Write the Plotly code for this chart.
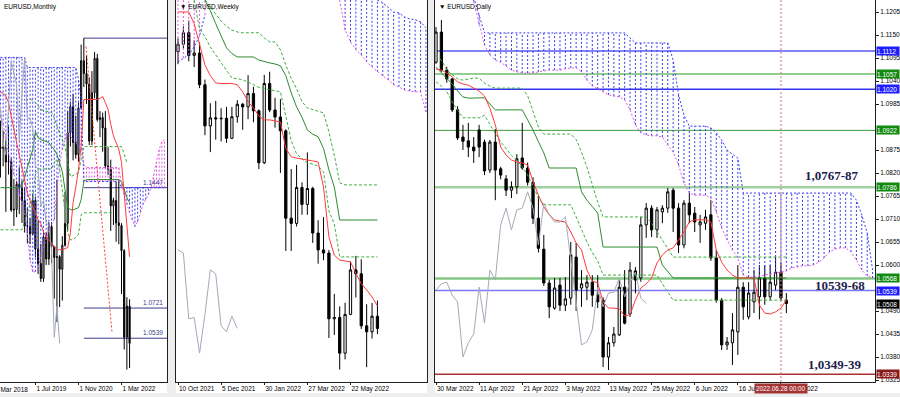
import plotly.graph_objects as go
from datetime import datetime

# ============================ DATA ============================
# ---------------- Monthly (EURUSD, MN) ----------------
m_dates = ["2018-06-01", "2018-07-01", "2018-08-01", "2018-09-01", "2018-10-01", "2018-11-01", "2018-12-01",
           "2019-01-01", "2019-02-01", "2019-03-01", "2019-04-01", "2019-05-01", "2019-06-01", "2019-07-01",
           "2019-08-01", "2019-09-01", "2019-10-01", "2019-11-01", "2019-12-01", "2020-01-01", "2020-02-01",
           "2020-03-01", "2020-04-01", "2020-05-01", "2020-06-01", "2020-07-01", "2020-08-01", "2020-09-01",
           "2020-10-01", "2020-11-01", "2020-12-01", "2021-01-01", "2021-02-01", "2021-03-01", "2021-04-01",
           "2021-05-01", "2021-06-01", "2021-07-01", "2021-08-01", "2021-09-01", "2021-10-01", "2021-11-01",
           "2021-12-01", "2022-01-01", "2022-02-01", "2022-03-01", "2022-04-01", "2022-05-01", "2022-06-01"]
m_open = [1.1692, 1.1684, 1.1690, 1.1602, 1.1604, 1.1312, 1.1316, 1.1467, 1.1445, 1.1370, 1.1217, 1.1214,
          1.1169, 1.1370, 1.1077, 1.0989, 1.0899, 1.1150, 1.1017, 1.1213, 1.1093, 1.1026, 1.1031, 1.0955,
          1.1100, 1.1232, 1.1778, 1.1936, 1.1720, 1.1646, 1.1928, 1.2213, 1.2136, 1.2072, 1.1728, 1.2020,
          1.2227, 1.1858, 1.1870, 1.1807, 1.1578, 1.1558, 1.1337, 1.1370, 1.1235, 1.1219, 1.1067, 1.0545, 1.0733]
m_high = [1.1852, 1.1791, 1.1734, 1.1815, 1.1625, 1.1500, 1.1486, 1.1570, 1.1489, 1.1448, 1.1324, 1.1265,
          1.1412, 1.1393, 1.1249, 1.1109, 1.1179, 1.1176, 1.1239, 1.1239, 1.1095, 1.1495, 1.1040, 1.1154,
          1.1422, 1.1909, 1.1966, 1.2011, 1.1881, 1.1960, 1.2310, 1.2349, 1.2243, 1.2113, 1.2150, 1.2266,
          1.2254, 1.1909, 1.1900, 1.1909, 1.1692, 1.1616, 1.1386, 1.1482, 1.1495, 1.1233, 1.1076, 1.0787, 1.0774]
m_low = [1.1508, 1.1576, 1.1301, 1.1526, 1.1302, 1.1216, 1.1269, 1.1289, 1.1234, 1.1176, 1.1110, 1.1107,
         1.1160, 1.1028, 1.0926, 1.0879, 1.0879, 1.0981, 1.0981, 1.0992, 1.0778, 1.0636, 1.0727, 1.0766,
         1.1091, 1.1185, 1.1695, 1.1612, 1.1622, 1.1603, 1.1924, 1.2054, 1.1952, 1.1704, 1.1704, 1.1986,
         1.1845, 1.1752, 1.1664, 1.1563, 1.1524, 1.1186, 1.1222, 1.1121, 1.1106, 1.0806, 1.0471, 1.0350, 1.0359]
m_close = [1.1684, 1.1690, 1.1602, 1.1604, 1.1312, 1.1316, 1.1467, 1.1445, 1.1370, 1.1217, 1.1214, 1.1169,
           1.1370, 1.1077, 1.0989, 1.0899, 1.1150, 1.1017, 1.1213, 1.1093, 1.1026, 1.1031, 1.0955, 1.1100,
           1.1232, 1.1778, 1.1936, 1.1720, 1.1646, 1.1928, 1.2213, 1.2136, 1.2072, 1.1728, 1.2020, 1.2227,
           1.1858, 1.1870, 1.1807, 1.1578, 1.1558, 1.1337, 1.1370, 1.1235, 1.1219, 1.1067, 1.0545, 1.0733, 1.0508]
m_tenkan = [1.2027, 1.2015, 1.2000, 1.1960, 1.1870, 1.1800, 1.1720, 1.1640, 1.1560, 1.1480, 1.1417, 1.1370,
            1.1332, 1.1300, 1.1254, 1.1230, 1.1180, 1.1150, 1.1130, 1.1115, 1.1095, 1.1073, 1.1073, 1.1073,
            1.1080, 1.1085, 1.1175, 1.1357, 1.1450, 1.1556, 1.1700, 1.1979, 1.1979, 1.1979, 1.1979, 1.1979,
            1.1979, 1.1985, 1.1997, 1.1960, 1.1919, 1.1830, 1.1760, 1.1719, 1.1680, 1.1600, 1.1400, 1.1211, 1.1030]
m_kijun = [1.1447, 1.1447, 1.1447, 1.1447, 1.1447, 1.1447, 1.1447, 1.1447, 1.1465, 1.1508, 1.1568, 1.1616,
           1.1677, 1.1785, 1.1749, 1.1737, 1.1731, 1.1725, 1.1719, 1.1695, 1.1677, 1.1647, 1.1598, 1.1544,
           1.1435, 1.1332, 1.1314, 1.1314, 1.1320, 1.1326, 1.1375, 1.1484, 1.1496, 1.1496, 1.1496, 1.1496,
           1.1496, 1.1496, 1.1496, 1.1496, 1.1496, 1.1496, 1.1496, 1.1496, 1.1496, 1.1484, 1.1435, 1.1387, 1.1357]
m_green_a = [None, None, None, None, None, None, None, None, None, None, None, 1.1979,
             1.1975, 1.1961, 1.1940, 1.1919, 1.1912, 1.1908, 1.1905, 1.1901, 1.1870, 1.1816, 1.1770, 1.1737,
             1.1695, 1.1600, 1.1514, 1.1520, 1.1530, 1.1538, 1.1616, 1.1695, 1.1695, 1.1695, 1.1695, 1.1695,
             1.1695, 1.1695, 1.1695, 1.1695, 1.1695, 1.1695, 1.1695, 1.1695, 1.1695, 1.1695, 1.1650, 1.1598, None]
m_green_b = [1.1193, 1.1193, 1.1193, 1.1193, 1.1193, 1.1193, 1.1193, 1.1193, 1.1193, 1.1240, 1.1296, 1.1350,
             1.1375, 1.1538, 1.1560, 1.1560, 1.1560, 1.1560, 1.1560, 1.1560, 1.1600, 1.1616, 1.1560, 1.1440,
             1.1314, 1.1175, 1.1133, 1.1133, 1.1150, 1.1163, 1.1284, 1.1296, 1.1296, 1.1296, 1.1296, 1.1296,
             1.1296, 1.1296, 1.1296, 1.1296, 1.1296, 1.1296, 1.1296, None, None, None, None, None, None]
# Ichimoku cloud (spans), bar index 0..61 (extends into the future)
m_span_a = [1.2233, 1.2233, 1.2233, 1.2233, 1.2233, 1.2233, 1.2233, 1.2233, 1.2233, 1.2233,
            1.2172, 1.2172, 1.2172, 1.2172, 1.2172, 1.2172, 1.2172, 1.2172, 1.2172, 1.2172,
            1.2172, 1.2172, 1.2172, 1.2172, 1.2172, 1.2172, 1.2172, 1.2172, 1.2172, 1.2100,
            1.1979, 1.1484, 1.1484, 1.1484, 1.1484, 1.1484, 1.1484, 1.1484, 1.1484, 1.1484,
            1.1484, 1.1484, 1.1484, 1.1484, 1.1484, 1.1447, 1.1447, 1.1447, 1.1447, 1.1447,
            1.1447, 1.1447, 1.1447, 1.1447, 1.1447, 1.1447, 1.1447, 1.1447, 1.1447, 1.1447,
            1.1447, 1.1447]
m_span_b = [1.1876, 1.1828, 1.1737, 1.1647, 1.1574, 1.1526, 1.1496, 1.1405, 1.1345, 1.1296,
            1.1175, 1.1012, 1.0940, 1.0940, 1.0952, 1.1042, 1.1085, 1.1145, 1.1193, 1.1224,
            1.1254, 1.1435, 1.1586, 1.1677, 1.1737, 1.1779, 1.1755, 1.1737, 1.1719, 1.1695,
            1.1677, 1.1586, 1.1568, 1.1568, 1.1568, 1.1568, 1.1568, 1.1568, 1.1568, 1.1568,
            1.1568, 1.1568, 1.1568, 1.1568, 1.1568, 1.1465, 1.1405, 1.1345, 1.1296, 1.1254,
            1.1212, 1.1242, 1.1302, 1.1345, 1.1375, 1.1405, 1.1447, 1.1526, 1.1616, 1.1677,
            1.1725, 1.1737]
m_levels = [1.2349, 1.1447, 1.0721, 1.0539]
m_level_labels = ["", "1.1447", "1.0721", "1.0539"]
m_level_start = "2021-01-01"
m_trend_x = [31.8, 41.5]
m_trend_y = [1.2298, 1.0571]
m_tick_dates = ["2018-03-01", "2019-07-01", "2020-11-01", "2022-03-01"]

# ---------------- Weekly (EURUSD, W1) ----------------
w_dates = ["2021-10-10", "2021-10-17", "2021-10-24", "2021-10-31", "2021-11-07", "2021-11-14", "2021-11-21",
           "2021-11-28", "2021-12-05", "2021-12-12", "2021-12-19", "2021-12-26", "2022-01-02", "2022-01-09",
           "2022-01-16", "2022-01-23", "2022-01-30", "2022-02-06", "2022-02-13", "2022-02-20", "2022-02-27",
           "2022-03-06", "2022-03-13", "2022-03-20", "2022-03-27", "2022-04-03", "2022-04-10", "2022-04-17",
           "2022-04-24", "2022-05-01", "2022-05-08", "2022-05-15", "2022-05-22", "2022-05-29", "2022-06-05",
           "2022-06-12", "2022-06-19", "2022-06-26"]
w_open = [1.1572, 1.1601, 1.1645, 1.1558, 1.1567, 1.1445, 1.1287, 1.1318, 1.1314, 1.1316, 1.1239, 1.1322,
          1.1370, 1.1360, 1.1411, 1.1345, 1.1145, 1.1450, 1.1348, 1.1321, 1.1268, 1.0932, 1.0912, 1.1050,
          1.0985, 1.1046, 1.0875, 1.0810, 1.0798, 1.0545, 1.0550, 1.0413, 1.0562, 1.0733, 1.0718, 1.0518,
          1.0495, 1.0555]
w_high = [1.1624, 1.1669, 1.1692, 1.1616, 1.1608, 1.1465, 1.1374, 1.1383, 1.1355, 1.1360, 1.1360, 1.1386,
          1.1375, 1.1482, 1.1437, 1.1350, 1.1483, 1.1495, 1.1395, 1.1390, 1.1274, 1.1121, 1.1137, 1.1070,
          1.1185, 1.1053, 1.0924, 1.0936, 1.0810, 1.0641, 1.0593, 1.0607, 1.0765, 1.0787, 1.0774, 1.0601,
          1.0606, 1.0615]
w_low = [1.1524, 1.1585, 1.1535, 1.1513, 1.1432, 1.1251, 1.1186, 1.1234, 1.1227, 1.1222, 1.1236, 1.1299,
         1.1272, 1.1313, 1.1301, 1.1121, 1.1140, 1.1340, 1.1280, 1.1106, 1.0806, 1.0806, 1.0900, 1.0945,
         1.0945, 1.0837, 1.0757, 1.0770, 1.0471, 1.0483, 1.0350, 1.0389, 1.0559, 1.0627, 1.0506, 1.0359,
         1.0469, 1.0486]
w_close = [1.1601, 1.1645, 1.1558, 1.1567, 1.1445, 1.1287, 1.1318, 1.1314, 1.1316, 1.1239, 1.1322, 1.1370,
           1.1360, 1.1411, 1.1345, 1.1145, 1.1450, 1.1348, 1.1321, 1.1268, 1.0932, 1.0912, 1.1050, 1.0985,
           1.1046, 1.0875, 1.0810, 1.0798, 1.0545, 1.0550, 1.0413, 1.0562, 1.0733, 1.0718, 1.0518, 1.0495,
           1.0555, 1.0508]
w_tenkan = [1.1725, 1.1725, 1.1725, 1.1680, 1.1600, 1.1521, 1.1480, 1.1452, 1.1450, 1.1450, 1.1450, 1.1445,
            1.1418, 1.1380, 1.1356, 1.1325, 1.1310, 1.1310, 1.1306, 1.1302, 1.1200, 1.1168, 1.1163, 1.1160,
            1.1156, 1.1152, 1.1148, 1.1052, 1.0860, 1.0790, 1.0771, 1.0767, 1.0764, 1.0720, 1.0680, 1.0656,
            1.0629, 1.0595]
w_kijun = [None, None, None, None, None, 1.1771, 1.1730, 1.1680, 1.1630, 1.1587, 1.1565, 1.1552,
           1.1552, 1.1552, 1.1552, 1.1540, 1.1533, 1.1529, 1.1525, 1.1518, 1.1480, 1.1414, 1.1360, 1.1320,
           1.1271, 1.1255, 1.1245, 1.1200, 1.1118, 1.1052, 1.0925, 1.0925, 1.0925, 1.0925, 1.0925, 1.0925,
           1.0925, 1.0925]
w_green_a = [None, None, None, None, None, 1.1771, 1.1745, 1.1715, 1.1690, 1.1670, 1.1655, 1.1648,
             1.1645, 1.1645, 1.1645, 1.1645, 1.1625, 1.1610, 1.1610, 1.1580, 1.1521, 1.1470, 1.1430, 1.1380,
             1.1356, 1.1350, 1.1345, 1.1337, 1.1264, 1.1175, 1.1068, 1.1060, 1.1060, 1.1060, 1.1060, 1.1060,
             1.1060, 1.1060]
w_green_b = [None, None, None, 1.1771, 1.1660, 1.1630, 1.1590, 1.1560, 1.1530, 1.1500, 1.1471, 1.1468,
             1.1464, 1.1455, 1.1445, 1.1435, 1.1430, 1.1427, 1.1422, 1.1418, 1.1330, 1.1230, 1.1180, 1.1160,
             1.1145, 1.1140, 1.1132, 1.1110, 1.0960, 1.0910, 1.0783, 1.0783, 1.0783, 1.0783, 1.0783, 1.0783,
             1.0783, 1.0783]
# cloud spans, bar index 0..46 (None where the cloud is above the window)
w_span_a = [1.1533, 1.1548, 1.1560, 1.1591, 1.1633, 1.1714, None, None, None, None, None, None,
            None, None, None, None, None, None, None, None, None, None, None, None,
            None, None, None, None, None, None, 1.1800, 1.1800, 1.1800, 1.1800, 1.1800, 1.1800,
            1.1790, 1.1771, 1.1760, 1.1741, 1.1725, 1.1721, 1.1706, 1.1698, 1.1695, 1.1687, 1.1664]
w_span_b = [1.1800, 1.1800, 1.1800, 1.1800, 1.1800, 1.1800, None, None, None, None, None, None,
            None, None, None, None, None, None, None, None, None, None, None, None,
            None, None, None, None, None, None, 1.1771, 1.1656, 1.1610, 1.1580, 1.1560, 1.1533,
            1.1514, 1.1495, 1.1479, 1.1464, 1.1445, 1.1437, 1.1425, 1.1421, 1.1418, 1.1418, 1.1341]

# ---------------- Daily (EURUSD, D1) ----------------
d_dates = ["2022-03-30", "2022-03-31", "2022-04-01", "2022-04-04", "2022-04-05", "2022-04-06", "2022-04-07", "2022-04-08",
           "2022-04-11", "2022-04-12", "2022-04-13", "2022-04-14", "2022-04-15", "2022-04-18", "2022-04-19", "2022-04-20",
           "2022-04-21", "2022-04-22", "2022-04-25", "2022-04-26", "2022-04-27", "2022-04-28", "2022-04-29", "2022-05-02",
           "2022-05-03", "2022-05-04", "2022-05-05", "2022-05-06", "2022-05-09", "2022-05-10", "2022-05-11", "2022-05-12",
           "2022-05-13", "2022-05-16", "2022-05-17", "2022-05-18", "2022-05-19", "2022-05-20", "2022-05-23", "2022-05-24",
           "2022-05-25", "2022-05-26", "2022-05-27", "2022-05-30", "2022-05-31", "2022-06-01", "2022-06-02", "2022-06-03",
           "2022-06-06", "2022-06-07", "2022-06-08", "2022-06-09", "2022-06-10", "2022-06-13", "2022-06-14", "2022-06-15",
           "2022-06-16", "2022-06-17", "2022-06-20", "2022-06-21", "2022-06-22", "2022-06-23", "2022-06-24", "2022-06-27",
           "2022-06-28", "2022-06-29"]
d_open = [1.1085, 1.1157, 1.1066, 1.1045, 1.0971, 1.0906, 1.0897, 1.0882, 1.0923, 1.0894,
          1.0827, 1.0894, 1.0830, 1.0806, 1.0779, 1.0787, 1.0856, 1.0832, 1.0798, 1.0712,
          1.0638, 1.0557, 1.0497, 1.0552, 1.0504, 1.0521, 1.0619, 1.0545, 1.0547, 1.0559,
          1.0528, 1.0516, 1.0380, 1.0414, 1.0433, 1.0547, 1.0483, 1.0586, 1.0569, 1.0696,
          1.0736, 1.0684, 1.0727, 1.0736, 1.0779, 1.0736, 1.0648, 1.0748, 1.0724, 1.0696,
          1.0700, 1.0720, 1.0617, 1.0516, 1.0409, 1.0414, 1.0440, 1.0547, 1.0476, 1.0512,
          1.0524, 1.0569, 1.0524, 1.0552, 1.0583, 1.0516]
d_high = [1.1169, 1.1186, 1.1074, 1.1047, 1.0980, 1.0935, 1.0940, 1.0906, 1.0935, 1.0900,
          1.0899, 1.0925, 1.0835, 1.0815, 1.0800, 1.0865, 1.0940, 1.0845, 1.0810, 1.0765,
          1.0672, 1.0565, 1.0569, 1.0569, 1.0571, 1.0655, 1.0653, 1.0588, 1.0576, 1.0576,
          1.0576, 1.0523, 1.0428, 1.0452, 1.0564, 1.0588, 1.0607, 1.0595, 1.0715, 1.0748,
          1.0743, 1.0739, 1.0743, 1.0784, 1.0784, 1.0748, 1.0755, 1.0772, 1.0739, 1.0720,
          1.0732, 1.0755, 1.0636, 1.0521, 1.0428, 1.0485, 1.0600, 1.0559, 1.0559, 1.0588,
          1.0600, 1.0600, 1.0600, 1.0619, 1.0605, 1.0533]
d_low = [1.1081, 1.1062, 1.1036, 1.0966, 1.0899, 1.0875, 1.0858, 1.0844, 1.0858, 1.0815,
         1.0820, 1.0755, 1.0805, 1.0765, 1.0760, 1.0770, 1.0828, 1.0790, 1.0698, 1.0630,
         1.0550, 1.0473, 1.0493, 1.0490, 1.0490, 1.0505, 1.0490, 1.0500, 1.0516, 1.0500,
         1.0497, 1.0356, 1.0349, 1.0405, 1.0430, 1.0458, 1.0476, 1.0532, 1.0560, 1.0665,
         1.0667, 1.0665, 1.0700, 1.0725, 1.0679, 1.0629, 1.0640, 1.0700, 1.0679, 1.0653,
         1.0684, 1.0610, 1.0510, 1.0397, 1.0397, 1.0361, 1.0385, 1.0469, 1.0470, 1.0485,
         1.0470, 1.0505, 1.0515, 1.0540, 1.0515, 1.0485]
d_close = [1.1157, 1.1066, 1.1045, 1.0971, 1.0904, 1.0896, 1.0882, 1.0873, 1.0882, 1.0825,
           1.0894, 1.0827, 1.0815, 1.0779, 1.0787, 1.0854, 1.0832, 1.0798, 1.0712, 1.0640,
           1.0557, 1.0500, 1.0545, 1.0504, 1.0519, 1.0624, 1.0540, 1.0555, 1.0559, 1.0528,
           1.0512, 1.0380, 1.0414, 1.0435, 1.0547, 1.0461, 1.0588, 1.0564, 1.0696, 1.0736,
           1.0684, 1.0732, 1.0736, 1.0775, 1.0736, 1.0648, 1.0748, 1.0720, 1.0703, 1.0703,
           1.0715, 1.0617, 1.0516, 1.0409, 1.0416, 1.0445, 1.0547, 1.0500, 1.0533, 1.0535,
           1.0569, 1.0524, 1.0559, 1.0583, 1.0521, 1.0508]
d_tenkan = [1.1069, 1.1066, 1.1059, 1.1050, 1.1038, 1.1033, 1.1030, 1.1023, 1.1016, 1.1004,
            1.0975, 1.0935, 1.0882, 1.0863, 1.0851, 1.0846, 1.0844, 1.0839, 1.0800, 1.0767,
            1.0739, 1.0720, 1.0708, 1.0705, 1.0703, 1.0679, 1.0653, 1.0636, 1.0588, 1.0562,
            1.0557, 1.0512, 1.0497, 1.0497, 1.0495, 1.0478, 1.0481, 1.0516, 1.0545, 1.0555,
            1.0569, 1.0605, 1.0624, 1.0636, 1.0641, 1.0660, 1.0679, 1.0703, 1.0708, 1.0708,
            1.0708, 1.0703, 1.0636, 1.0607, 1.0588, 1.0576, 1.0569, 1.0569, 1.0569, 1.0569,
            1.0504, 1.0485, 1.0483, 1.0488, 1.0497, 1.0516]
d_kijun = [1.1073, 1.1059, 1.1045, 1.1033, 1.1016, 1.1002, 1.0999, 1.0999, 1.0999, 1.1000,
           1.0985, 1.0971, 1.0971, 1.0971, 1.0971, 1.0971, 1.0971, 1.0947, 1.0923, 1.0895,
           1.0868, 1.0832, 1.0832, 1.0832, 1.0832, 1.0832, 1.0832, 1.0775, 1.0755, 1.0740,
           1.0724, 1.0643, 1.0643, 1.0643, 1.0643, 1.0643, 1.0643, 1.0643, 1.0643, 1.0643,
           1.0643, 1.0643, 1.0600, 1.0585, 1.0569, 1.0569, 1.0569, 1.0569, 1.0569, 1.0569,
           1.0569, 1.0569, 1.0569, 1.0569, 1.0569, 1.0569, 1.0569, 1.0569, 1.0569, 1.0569,
           1.0569, 1.0569, 1.0569, 1.0569, 1.0569, 1.0569]
d_green_a = [1.1100, 1.1090, 1.1066, 1.1055, 1.1045, 1.1042, 1.1045, 1.1047, 1.1047, 1.1035,
             1.1028, 1.1023, 1.1023, 1.1023, 1.1023, 1.1023, 1.1023, 1.1005, 1.0970, 1.0930,
             1.0913, 1.0913, 1.0913, 1.0913, 1.0913, 1.0913, 1.0900, 1.0870, 1.0834, 1.0790,
             1.0750, 1.0715, 1.0715, 1.0715, 1.0715, 1.0715, 1.0715, 1.0715, 1.0715, 1.0715,
             1.0700, 1.0680, 1.0660, 1.0640, 1.0619, 1.0619, 1.0619, 1.0619, 1.0619, 1.0619,
             1.0619, 1.0619, 1.0619, 1.0619, 1.0619, 1.0619, 1.0619, 1.0619, 1.0619, 1.0619,
             1.0619, 1.0619, 1.0619, 1.0619, 1.0619, 1.0619]
d_green_b = [1.1038, 1.1028, 1.1015, 1.0990, 1.0970, 1.0952, 1.0952, 1.0952, 1.0952, 1.0958,
             1.0935, 1.0915, 1.0895, 1.0878, 1.0862, 1.0850, 1.0835, 1.0815, 1.0790, 1.0760,
             1.0744, 1.0744, 1.0744, 1.0744, 1.0744, 1.0744, 1.0715, 1.0685, 1.0655, 1.0630,
             1.0610, 1.0576, 1.0576, 1.0576, 1.0576, 1.0576, 1.0576, 1.0576, 1.0576, 1.0576,
             1.0576, 1.0576, 1.0555, 1.0535, 1.0516, 1.0516, 1.0516, 1.0516, 1.0516, 1.0516,
             1.0516, 1.0516, 1.0516, 1.0516, 1.0516, 1.0516, 1.0516, 1.0516, 1.0516, 1.0516,
             1.0516, 1.0516, 1.0516, 1.0516, 1.0516, 1.0516]
# cloud spans from bar 7 to bar 81 (26 bars into the future)
d_cloud_first = 7
d_span_a = [1.1240, 1.1200, 1.1155, 1.1155, 1.1155, 1.1155, 1.1155, 1.1155, 1.1155, 1.1155,
            1.1155, 1.1155, 1.1155, 1.1155, 1.1155, 1.1155, 1.1155, 1.1155, 1.1155, 1.1155,
            1.1155, 1.1155, 1.1155, 1.1155, 1.1155, 1.1155, 1.1155, 1.1155, 1.1155, 1.1143,
            1.1131, 1.1131, 1.1131, 1.1131, 1.1131, 1.1131, 1.1131, 1.1090, 1.1007, 1.0959,
            1.0932, 1.0932, 1.0932, 1.0932, 1.0928, 1.0916, 1.0899, 1.0875, 1.0865, 1.0856,
            1.0772, 1.0772, 1.0772, 1.0772, 1.0772, 1.0772, 1.0772, 1.0772, 1.0772, 1.0772,
            1.0772, 1.0772, 1.0772, 1.0772, 1.0772, 1.0772, 1.0772, 1.0772, 1.0772, 1.0772,
            1.0772, 1.0755, 1.0720, 1.0677, 1.0588]
d_span_b = [1.1230, 1.1175, 1.1126, 1.1102, 1.1090, 1.1085, 1.1076, 1.1066, 1.1062, 1.1059,
            1.1059, 1.1059, 1.1062, 1.1064, 1.1066, 1.1066, 1.1066, 1.1069, 1.1071, 1.1071,
            1.1062, 1.1042, 1.1028, 1.1021, 1.1014, 1.1007, 1.1004, 1.1002, 1.0995, 1.0971,
            1.0935, 1.0916, 1.0911, 1.0909, 1.0909, 1.0906, 1.0887, 1.0870, 1.0839, 1.0796,
            1.0772, 1.0767, 1.0767, 1.0767, 1.0760, 1.0727, 1.0689, 1.0660, 1.0636, 1.0617,
            1.0576, 1.0571, 1.0571, 1.0574, 1.0576, 1.0578, 1.0581, 1.0583, 1.0586, 1.0593,
            1.0595, 1.0598, 1.0598, 1.0600, 1.0607, 1.0617, 1.0631, 1.0638, 1.0641, 1.0641,
            1.0631, 1.0612, 1.0588, 1.0574, 1.0569]
d_levels = [1.1112, 1.1057, 1.1020, 1.0922, 1.0786, 1.0568, 1.0539, 1.0339]
# price scale labels that are not hidden behind the level boxes
d_yticks = [1.1205, 1.1150, 1.1095, 1.1040, 1.0985, 1.0875, 1.0820, 1.0765, 1.0710,
            1.0655, 1.0600, 1.0490, 1.0435, 1.0380, 1.0325]
d_cursor_date = "2022-06-28"
d_notes = ["1,0767-87", "10539-68", "1,0349-39"]

# ============================ STYLE ============================
FONT = "Liberation Sans, Arial, sans-serif"
BLUE_H = "#3b3bf2"
PINK = "#e05ae0"
RED = "#ff3a3a"
KIJUN = "#2e8b2e"
GDASH = "#3fae3f"
CHIKOU = "#a3abb8"
level_line_col = ["#5a5af5", "#6cbf6c", "#3434f0", "#3c9c3c", "#9fd09f", "#86c786", "#7a7af8", "#a83232"]
level_line_w = [1.5, 1.5, 1.5, 1, 2.5, 2.5, 1.5, 1.5]
level_box_col = ["#1e1eff", "#0f8a0f", "#1e1eff", "#0f8a0f", "#0f8a0f", "#0f8a0f", "#1e1eff", "#8b1a1a"]
PANEL_X = {"m": (0, 167), "w": (176, 427), "d": (435, 875)}
# first-bar pixel position and pixel step per bar for each panel (layout)
BAR_PX = {"m": (0.45, 2.69), "w": (178, 5.39), "d": (436, 5.39)}
W, H = 900, 397
PLOT_BOTTOM = 382


def pdate(s):
    return datetime.strptime(s, "%Y-%m-%d")


def label(s):
    d = pdate(s)
    return f"{d.day} {d:%b %Y}"


def hatch(idx, a, b):
    bx, by, px, py = [], [], [], []
    for i, ya, yb in zip(idx, a, b):
        if ya is None or yb is None:
            continue
        if ya >= yb:
            bx += [i, i, None]
            by += [yb, ya, None]
        else:
            px += [i, i, None]
            py += [ya, yb, None]
    return bx, by, px, py


fig = go.Figure()


def add_ichimoku(xa, ya, n, o, h, l, c, tenkan, kijun, ga, gb, cloud_idx, span_a, span_b):
    bx, by, px, py = hatch(cloud_idx, span_a, span_b)
    common = dict(xaxis=xa, yaxis=ya, mode="lines", hoverinfo="skip", showlegend=False)
    fig.add_trace(go.Scatter(x=bx, y=by, line=dict(color=BLUE_H, width=1, dash="2px,2px"), **common))
    fig.add_trace(go.Scatter(x=px, y=py, line=dict(color=PINK, width=1, dash="2px,2px"), **common))
    fig.add_trace(go.Scatter(x=cloud_idx, y=span_a, line=dict(color=BLUE_H, width=1, dash="2px,2px"), **common))
    fig.add_trace(go.Scatter(x=cloud_idx, y=span_b, line=dict(color=PINK, width=1, dash="2px,2px"), **common))
    idx = list(range(n))
    fig.add_trace(go.Scatter(x=idx, y=ga, line=dict(color=GDASH, width=1, dash="3px,2px"), **common))
    fig.add_trace(go.Scatter(x=idx, y=gb, line=dict(color=GDASH, width=1, dash="3px,2px"), **common))
    fig.add_trace(go.Scatter(x=idx, y=kijun, line=dict(color=KIJUN, width=1), **common))
    fig.add_trace(go.Scatter(x=idx, y=tenkan, line=dict(color=RED, width=1), **common))
    # chikou span: close shifted 26 bars back
    fig.add_trace(go.Scatter(x=idx[:n - 26], y=c[26:], line=dict(color=CHIKOU, width=1), **common))
    fig.add_trace(go.Candlestick(
        x=idx, open=o, high=h, low=l, close=c, xaxis=xa, yaxis=ya,
        increasing=dict(line=dict(color="black", width=1), fillcolor="white"),
        decreasing=dict(line=dict(color="black", width=1), fillcolor="black"),
        whiskerwidth=0, hoverinfo="skip", showlegend=False))


# monthly
add_ichimoku("x", "y", len(m_dates), m_open, m_high, m_low, m_close, m_tenkan, m_kijun,
             m_green_a, m_green_b, list(range(len(m_span_a))), m_span_a, m_span_b)
fig.add_trace(go.Scatter(x=m_trend_x, y=m_trend_y, xaxis="x", yaxis="y", mode="lines",
                         line=dict(color=RED, width=1, dash="2px,2px"), hoverinfo="skip", showlegend=False))
# weekly
add_ichimoku("x2", "y2", len(w_dates), w_open, w_high, w_low, w_close, w_tenkan, w_kijun,
             w_green_a, w_green_b, list(range(len(w_span_a))), w_span_a, w_span_b)
# daily
add_ichimoku("x3", "y3", len(d_dates), d_open, d_high, d_low, d_close, d_tenkan, d_kijun,
             d_green_a, d_green_b, list(range(d_cloud_first, d_cloud_first + len(d_span_a))), d_span_a, d_span_b)

# ---------- axes ----------
ydom = [(H - PLOT_BOTTOM) / H, 1]


def xdom(k):
    return [PANEL_X[k][0] / W, PANEL_X[k][1] / W]


def bar_range(k):
    x0, x1 = PANEL_X[k]
    first_px, step = BAR_PX[k]
    return [(x0 - first_px) / step, (x1 - first_px) / step]


tickfont = dict(family=FONT, size=6.5, color="black")
axis_common = dict(showgrid=False, zeroline=False, showline=True, mirror=True, linecolor="#202020",
                   linewidth=1, rangeslider=dict(visible=False), ticks="outside", ticklen=2,
                   tickcolor="#202020", tickfont=tickfont, ticklabelposition="outside right",
                   tickangle=0, automargin=False)
yaxis_common = dict(showgrid=False, zeroline=False, showline=True, mirror=True, linecolor="#202020",
                    linewidth=1, domain=ydom, automargin=False)

m_idx_ticks = [i for i, s in enumerate(m_dates) if s in m_tick_dates]
w_idx_ticks = list(range(0, len(w_dates), 8))
d_idx_ticks = list(range(0, len(d_dates), 8))

fig.update_layout(
    xaxis=dict(domain=xdom("m"), range=bar_range("m"), anchor="y",
               tickvals=m_idx_ticks, ticktext=[label(m_dates[i]) for i in m_idx_ticks], **axis_common),
    yaxis=dict(range=[1.0275, 1.2579], anchor="x", showticklabels=False, ticks="", **yaxis_common),
    xaxis2=dict(domain=xdom("w"), range=bar_range("w"), anchor="y2",
                tickvals=w_idx_ticks, ticktext=[label(w_dates[i]) for i in w_idx_ticks], **axis_common),
    yaxis2=dict(range=[1.0302, 1.1771], anchor="x2", showticklabels=False, ticks="", **yaxis_common),
    xaxis3=dict(domain=xdom("d"), range=bar_range("d"), anchor="y3",
                tickvals=d_idx_ticks, ticktext=[label(d_dates[i]) for i in d_idx_ticks], **axis_common),
    yaxis3=dict(range=[1.03203, 1.12337], anchor="x3", side="right", tickvals=d_yticks,
                tickformat=".4f", ticks="outside", ticklen=3, tickcolor="#202020", tickfont=tickfont,
                **yaxis_common),
)

shapes = []
# white chart windows (incl. label strips)
for k in ("m", "w", "d"):
    x0, x1 = PANEL_X[k]
    if k == "d":
        x1 = W
    shapes.append(dict(type="rect", xref="paper", yref="paper", x0=x0 / W, x1=x1 / W,
                       y0=4 / H, y1=1, fillcolor="white", line=dict(width=0), layer="below"))
# monthly horizontal levels
m_start = m_dates.index(m_level_start)
for lv in m_levels:
    shapes.append(dict(type="line", xref="x", yref="y", x0=m_start, x1=bar_range("m")[1],
                       y0=lv, y1=lv, line=dict(color="#3c3c8c", width=1), layer="below"))
# daily horizontal levels
for lv, col, lw in zip(d_levels, level_line_col, level_line_w):
    shapes.append(dict(type="line", xref="x3 domain", yref="y3", x0=0, x1=1, y0=lv, y1=lv,
                       line=dict(color=col, width=lw), layer="below"))
# daily cursor line
cur_i = d_dates.index(d_cursor_date)
shapes.append(dict(type="line", xref="x3", yref="y3 domain", x0=cur_i, x1=cur_i, y0=0, y1=1,
                   line=dict(color="#e07070", width=1, dash="2px,2px"), layer="above"))

ann = []
# panel titles
ann.append(dict(text="EURUSD,Monthly", xref="paper", yref="paper", x=2 / W, y=1 - 1 / H,
                xanchor="left", yanchor="top", showarrow=False, font=tickfont))
ann.append(dict(text="▼ EURUSD,Weekly", xref="paper", yref="paper", x=178 / W, y=1 - 1 / H,
                xanchor="left", yanchor="top", showarrow=False, font=tickfont))
ann.append(dict(text="▼ EURUSD,Daily", xref="paper", yref="paper", x=437 / W, y=1 - 1 / H,
                xanchor="left", yanchor="top", showarrow=False, font=tickfont))
# first monthly label, cut off at the left window edge (placed in paper coords from the bar scale)
d0 = pdate(m_tick_dates[0])
dm = pdate(m_dates[0])
first_bar = (d0.year - dm.year) * 12 + d0.month - dm.month
first_px = BAR_PX["m"][0] + BAR_PX["m"][1] * first_bar
ann.append(dict(text=label(m_tick_dates[0]), xref="paper", yref="paper",
                x=first_px / W, y=(H - PLOT_BOTTOM - 2) / H, xanchor="left", yanchor="top",
                showarrow=False, xshift=1, font=tickfont))
# monthly level labels
for lv, txt in zip(m_levels, m_level_labels):
    if txt:
        ann.append(dict(text=txt, xref="paper", yref="y", x=165 / W, y=lv, xanchor="right",
                        yanchor="bottom", showarrow=False, font=dict(family=FONT, size=6.5, color="#3c3c8c")))
# daily level price boxes
for lv, col in zip(d_levels, level_box_col):
    ann.append(dict(text=f"{lv:.4f}", xref="paper", yref="y3", x=876 / W, y=lv, xanchor="left",
                    yanchor="middle", showarrow=False, bgcolor=col, borderpad=0, width=22, height=8,
                    align="left", font=dict(family=FONT, size=6.5, color="white")))
ann.append(dict(text=f"{d_close[-1]:.4f}", xref="paper", yref="y3", x=876 / W, y=d_close[-1],
                xanchor="left", yanchor="middle", showarrow=False, bgcolor="black", borderpad=0,
                width=22, height=8, align="left", font=dict(family=FONT, size=6.5, color="white")))
# cursor date box (covers the axis labels beneath it, as in the terminal)
cd = pdate(d_cursor_date)
ann.append(dict(text=f"{cd:%Y.%m.%d} 00:00", xref="x3", yref="paper", x=cur_i,
                y=(H - PLOT_BOTTOM - 6) / H, xanchor="center", yanchor="middle", showarrow=False,
                bgcolor="#a33434", borderpad=1, font=dict(family=FONT, size=6.3, color="white")))
# analyst notes
note_pos = [(73.5, 1.0813), (75.0, 1.0552), (74.0, 1.0361)]
for txt, (nx, ny) in zip(d_notes, note_pos):
    ann.append(dict(text=f"<b>{txt}</b>", xref="x3", yref="y3", x=nx, y=ny, showarrow=False,
                    font=dict(family="Liberation Serif, Times New Roman, serif", size=13, color="#1c1c4e")))

fig.update_layout(width=W, height=H, margin=dict(l=0, r=0, t=0, b=0),
                  paper_bgcolor="#eeeeee", plot_bgcolor="white", showlegend=False,
                  boxgap=0.4, shapes=shapes, annotations=ann)

fig.write_html("out.html")
